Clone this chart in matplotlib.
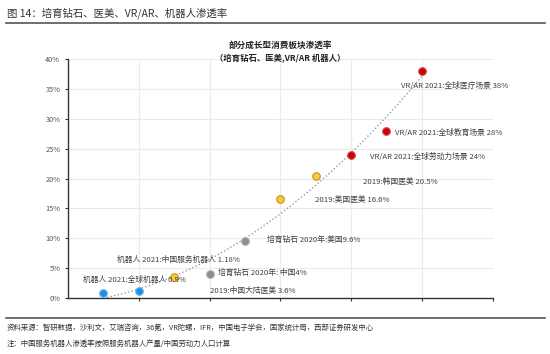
import numpy as np
import matplotlib
matplotlib.use('Agg')
import matplotlib.pyplot as plt

plt.rcParams['font.family'] = ['Noto Sans CJK SC', 'DejaVu Sans']

# data: position on the (unlabelled) x axis and penetration rate in %
x_pos = [0.5, 1.0, 1.5, 2.0, 2.5, 3.0, 3.5, 4.0, 4.5, 5.0]
rates = [0.9, 1.18, 3.6, 4.0, 9.6, 16.6, 20.5, 24.0, 28.0, 38.0]
groups = ['robot', 'robot', 'med', 'diamond', 'diamond', 'med', 'med', 'vr', 'vr', 'vr']
labels = [
    '机器人 2021:全球机器人 0.9%',
    '机器人 2021:中国服务机器人 1.18%',
    '2019:中国大陆医美 3.6%',
    '培育钻石 2020年: 中国4%',
    '培育钻石 2020年:美国9.6%',
    '2019:美国医美 16.6%',
    '2019:韩国医美 20.5%',
    'VR/AR 2021:全球劳动力场景 24%',
    'VR/AR 2021:全球教育场景 28%',
    'VR/AR 2021:全球医疗场景 38%',
]
y_ticks = [0, 5, 10, 15, 20, 25, 30, 35, 40]

# where each label sits (data coords, left edge / vertical centre)
label_xy = [(0.21, 3.0), (0.69, 6.35), (2.0, 1.2), (2.12, 4.2), (2.81, 9.7),
            (3.49, 16.4), (4.17, 19.4), (4.27, 23.6), (4.62, 27.6), (4.70, 35.5)]

colors = {'robot': ('#1b8fe6', '#5fb3f0'),
          'med': ('#f7c940', '#c99a12'),
          'diamond': ('#8f8f8f', '#a8a8a8'),
          'vr': ('#c8000b', '#e04040')}

fig = plt.figure(figsize=(5.5, 3.54), dpi=100)
ax = fig.add_axes([0.1236, 0.158, 0.772, 0.675])

# dotted trend line (quadratic fit of the points)
coef = np.polyfit(x_pos, rates, 2)
xs = np.linspace(0.3, 5.0, 200)
ax.plot(xs, np.polyval(coef, xs), linestyle=(0, (1, 1.6)), color='#9a9a9a', lw=1.0, zorder=2)

for xv, yv, g in zip(x_pos, rates, groups):
    fc, ec = colors[g]
    ax.scatter(xv, yv, s=30, color=fc, edgecolor=ec, linewidth=0.8, zorder=3)

for (lx, ly), txt in zip(label_xy, labels):
    ax.text(lx, ly, txt, fontsize=5.6, color='#404040', ha='left', va='center', zorder=4)

ax.set_xlim(0, 6)
ax.set_ylim(0, 40)
ax.set_xticks(np.arange(1, 7))
ax.set_xticklabels([])
ax.set_yticks(y_ticks)
ax.set_yticklabels([f'{t}%' for t in y_ticks], fontsize=5.3, color='#555555')
ax.grid(True, color='#ebebeb', lw=0.8)
ax.set_axisbelow(True)
for s in ['top', 'right']:
    ax.spines[s].set_visible(False)
for s in ['left', 'bottom']:
    ax.spines[s].set_color('#333333')
    ax.spines[s].set_linewidth(1.0)
ax.tick_params(axis='both', length=2.5, width=0.8, color='#333333', pad=3)

# headers and footer
fig.text(0.012, 0.962, '图 14：培育钻石、医美、VR/AR、机器人渗透率', fontsize=7.5, color='#333333', va='center')
fig.add_artist(plt.Line2D([0.01, 0.99], [0.935, 0.935], color='#555555', lw=1.2))
fig.text(0.51, 0.871, '部分成长型消费板块渗透率', fontsize=6.2, fontweight='bold', color='#222222', ha='center', va='center')
fig.text(0.51, 0.836, '（培育钻石、医美,VR/AR 机器人）', fontsize=6.0, fontweight='bold', color='#222222', ha='center', va='center')

fig.add_artist(plt.Line2D([0.01, 0.99], [0.103, 0.103], color='#555555', lw=1.2))
fig.text(0.012, 0.074, '资料来源：智研数据，沙利文，艾瑞咨询，36氪，VR陀螺，IFR，中国电子学会，国家统计局，西部证券研发中心',
         fontsize=5.3, color='#333333', va='center')
fig.text(0.012, 0.030, '注：中国服务机器人渗透率按照服务机器人产量/中国劳动力人口计算',
         fontsize=5.3, color='#333333', va='center')

fig.savefig('out.png', dpi=100)
